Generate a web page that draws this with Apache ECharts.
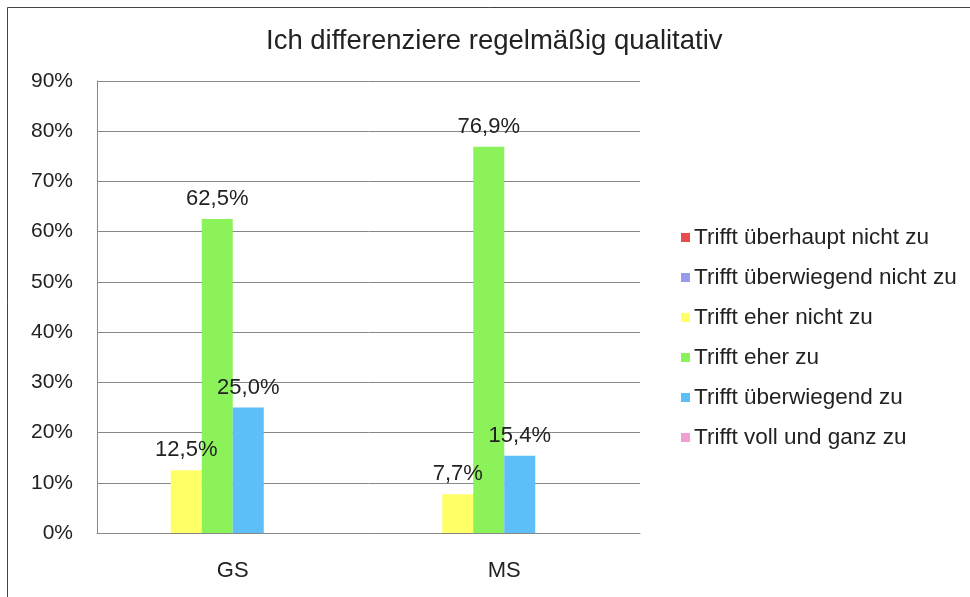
<!DOCTYPE html>
<html>
<head>
<meta charset="utf-8">
<script src="https://cdn.jsdelivr.net/npm/echarts@6/dist/echarts.min.js"></script>
<style>
html, body { margin: 0; padding: 0; background: #fff; }
#main { width: 970px; height: 597px; }
</style>
</head>
<body>
<div id="main"></div>
<script>
// Kategorien und Werte (Prozent)
var categories = ['GS', 'MS'];
var seriesNames = ['Trifft überhaupt nicht zu', 'Trifft überwiegend nicht zu', 'Trifft eher nicht zu',
	'Trifft eher zu', 'Trifft überwiegend zu', 'Trifft voll und ganz zu'];
var ueberhauptNicht = [0, 0];
var ueberwiegendNicht = [0, 0];
var eherNicht = [12.5, 7.7];
var eherZu = [62.5, 76.9];
var ueberwiegendZu = [25.0, 15.4];
var vollUndGanz = [0, 0];
var yTicks = [0, 10, 20, 30, 40, 50, 60, 70, 80, 90];

var colors = ['#e84c4c', '#9999ee', '#ffff66', '#8cf25a', '#5ebef8', '#f0a0d0'];
var font = 'Liberation Sans, Arial, sans-serif';

var myChart = echarts.init(document.getElementById('main'), null, {renderer: 'canvas'});

var pctLabel = {
	show: true,
	position: 'top',
	distance: 9,
	fontFamily: font,
	fontSize: 22,
	color: '#222',
	formatter: function(p) {
		return p.value.toFixed(1).replace('.', ',') + '%';
	}
};

var makeSeries = function(idx, data, stack, withLabel) {
	var s = {
		name: seriesNames[idx],
		type: 'bar',
		data: data,
		barWidth: 31,
		barGap: '0%',
		itemStyle: {color: colors[idx]},
		label: withLabel ? pctLabel : {show: false},
		emphasis: {disabled: true}
	};
	if (stack) s.stack = stack;
	return s;
};

var option = {
	animation: false,
	backgroundColor: '#fff',
	color: colors,
	title: {
		text: 'Ich differenziere regelmäßig qualitativ',
		left: 261,
		top: 22,
		textStyle: {fontFamily: font, fontSize: 27.5, fontWeight: 'normal', color: '#222'}
	},
	legend: {
		orient: 'vertical',
		left: 676,
		top: 221,
		itemWidth: 9,
		itemHeight: 9,
		itemGap: 17,
		icon: 'rect',
		textStyle: {fontFamily: font, fontSize: 22.5, color: '#222', padding: [0, 0, 0, -1]},
		data: seriesNames
	},
	grid: {left: 97, right: 330, top: 81, bottom: 64, containLabel: false},
	xAxis: {
		type: 'category',
		data: categories,
		axisLine: {lineStyle: {color: '#888', width: 1}},
		axisTick: {show: false},
		axisLabel: {fontFamily: font, fontSize: 22, color: '#222', margin: 27}
	},
	yAxis: {
		type: 'value',
		min: yTicks[0],
		max: yTicks[yTicks.length - 1],
		interval: 10,
		axisLine: {show: true, lineStyle: {color: '#888', width: 1}},
		axisTick: {show: false},
		splitLine: {lineStyle: {color: '#888', width: 1}},
		axisLabel: {fontFamily: font, fontSize: 21, color: '#222', margin: 24, formatter: '{value}%'}
	},
	graphic: [{
		type: 'rect',
		shape: {x: 7.5, y: 7.5, width: 1000, height: 1000},
		style: {fill: null, stroke: '#444', lineWidth: 1},
		silent: true
	}],
	series: [
		makeSeries(0, ueberhauptNicht, 'unten', false),
		makeSeries(1, ueberwiegendNicht, 'unten', false),
		makeSeries(2, eherNicht, 'unten', true),
		makeSeries(3, eherZu, null, true),
		makeSeries(4, ueberwiegendZu, null, true),
		makeSeries(5, vollUndGanz, null, false)
	]
};

myChart.setOption(option);
</script>
</body>
</html>
